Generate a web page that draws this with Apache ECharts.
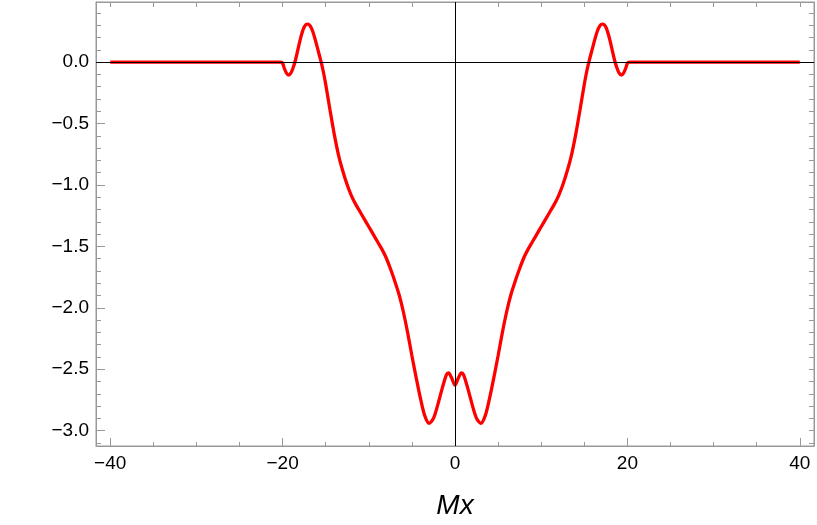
<!DOCTYPE html>
<html>
<head>
<meta charset="utf-8">
<script src="https://cdn.jsdelivr.net/npm/echarts@6/dist/echarts.min.js"></script>
<style>
html,body{margin:0;padding:0;background:#fff;}
#chart{width:817px;height:525px;}
</style>
</head>
<body>
<div id="chart"></div>
<script>
const mxValues = [-40, -30, -21, -20.2, -20.0, -19.8, -19.55, -19.3, -19.05, -18.8, -18.5, -18.2, -17.9, -17.6, -17.3, -17.05, -16.8, -16.5, -16.2, -15.9, -15.6, -15.3, -15.0, -14.5, -14.0, -13.5, -13.0, -12.5, -12.0, -11.5, -11.0, -10.5, -10.0, -9.5, -9.0, -8.5, -8.0, -7.5, -7.0, -6.5, -6.0, -5.5, -5.0, -4.5, -4.0, -3.5, -3.0, -2.5, -2.0, -1.5, -1.0, -0.75, -0.4, 0,
  0.4, 0.75, 1.0, 1.5, 2.0, 2.5, 3.0, 3.5, 4.0, 4.5, 5.0, 5.5, 6.0, 6.5, 7.0, 7.5, 8.0, 8.5, 9.0, 9.5, 10.0, 10.5, 11.0, 11.5, 12.0, 12.5, 13.0, 13.5, 14.0, 14.5, 15.0, 15.3, 15.6, 15.9, 16.2, 16.5, 16.8, 17.05, 17.3, 17.6, 17.9, 18.2, 18.5, 18.8, 19.05, 19.3, 19.55, 19.8, 20.0, 20.2, 21, 30, 40];
const curveValues = [0, 0, 0, 0, -0.01, -0.05, -0.09, -0.105, -0.09, -0.05, 0.02, 0.11, 0.20, 0.27, 0.305, 0.31, 0.295, 0.25, 0.18, 0.10, 0.02, -0.07, -0.18, -0.39, -0.59, -0.76, -0.89, -1.00, -1.09, -1.16, -1.22, -1.28, -1.34, -1.40, -1.46, -1.52, -1.59, -1.68, -1.78, -1.89, -2.03, -2.20, -2.39, -2.57, -2.74, -2.88, -2.94, -2.90, -2.79, -2.66, -2.545, -2.53, -2.57, -2.63,
  -2.57, -2.53, -2.545, -2.66, -2.79, -2.90, -2.94, -2.88, -2.74, -2.57, -2.39, -2.20, -2.03, -1.89, -1.78, -1.68, -1.59, -1.52, -1.46, -1.40, -1.34, -1.28, -1.22, -1.16, -1.09, -1.00, -0.89, -0.76, -0.59, -0.39, -0.18, -0.07, 0.02, 0.10, 0.18, 0.25, 0.295, 0.31, 0.305, 0.27, 0.20, 0.11, 0.02, -0.05, -0.09, -0.105, -0.09, -0.05, -0.01, 0, 0, 0, 0];
const xTickLabels = [-40, -20, 0, 20, 40];
const yTickLabels = [0.0, -0.5, -1.0, -1.5, -2.0, -2.5, -3.0];
const xLabel = 'Mx';

const chart = echarts.init(document.getElementById('chart'), null, {renderer: 'canvas'});
const frameColor = '#999999';
const fontFamily = '"Liberation Sans", Arial, sans-serif';
const minus = v => String(v).replace('-', '\u2212');

const xMin = -41.65, xMax = 41.65, yMin = -3.125, yMax = 0.49;

const data = mxValues.map((x, i) => [x, curveValues[i]]);

chart.setOption({
  animation: false,
  backgroundColor: '#fff',
  grid: {left: 96, right: 3, top: 2, bottom: 79, show: true, borderColor: frameColor, borderWidth: 1, containLabel: false},
  xAxis: [{
    type: 'value', min: xMin, max: xMax, splitNumber: 4, position: 'bottom',
    name: xLabel, nameLocation: 'middle', nameGap: 46,
    nameTextStyle: {fontFamily: fontFamily, fontStyle: 'italic', fontSize: 28, color: '#000'},
    axisLine: {show: true, onZero: false, lineStyle: {color: frameColor}},
    axisTick: {show: true, inside: true, length: 8, lineStyle: {color: frameColor}},
    minorTick: {show: true, splitNumber: 4, length: 4, lineStyle: {color: frameColor}},
    splitLine: {show: false},
    axisLabel: {show: true, margin: 8, fontFamily: fontFamily, fontSize: 19, color: '#000',
      showMinLabel: false, showMaxLabel: false,
      formatter: v => xTickLabels.indexOf(v) >= 0 ? minus(v) : ''}
  }, {
    type: 'value', min: xMin, max: xMax, splitNumber: 4, position: 'top',
    axisLine: {show: true, onZero: false, lineStyle: {color: frameColor}},
    axisTick: {show: true, inside: true, length: 5, lineStyle: {color: frameColor}},
    minorTick: {show: true, splitNumber: 4, length: 5, lineStyle: {color: frameColor}},
    splitLine: {show: false}, axisLabel: {show: false}
  }],
  yAxis: [{
    type: 'value', min: yMin, max: yMax, splitNumber: 7, position: 'left',
    axisLine: {show: true, onZero: false, lineStyle: {color: frameColor}},
    axisTick: {show: true, inside: true, length: 9, lineStyle: {color: frameColor}},
    minorTick: {show: true, splitNumber: 5, length: 5, lineStyle: {color: frameColor}},
    splitLine: {show: false},
    axisLabel: {show: true, margin: 7, fontFamily: fontFamily, fontSize: 19, color: '#000',
      showMinLabel: false, showMaxLabel: false,
      formatter: v => {
        const m = yTickLabels.find(t => Math.abs(t - v) < 1e-9);
        return m === undefined ? '' : minus(m.toFixed(1));
      }}
  }, {
    type: 'value', min: yMin, max: yMax, splitNumber: 7, position: 'right',
    axisLine: {show: true, onZero: false, lineStyle: {color: frameColor}},
    axisTick: {show: true, inside: true, length: 5, lineStyle: {color: frameColor}},
    minorTick: {show: true, splitNumber: 5, length: 5, lineStyle: {color: frameColor}},
    splitLine: {show: false}, axisLabel: {show: false}
  }],
  series: [{
    type: 'line', xAxisIndex: 0, yAxisIndex: 0, data: data,
    smooth: 0.3, showSymbol: false, symbol: 'none', z: 2,
    lineStyle: {color: '#ff0000', width: 3.3}, itemStyle: {color: '#ff0000'}
  }, {
    type: 'line', xAxisIndex: 0, yAxisIndex: 0, data: [], z: 5,
    markLine: {
      silent: true, symbol: ['none', 'none'], animation: false,
      label: {show: false},
      lineStyle: {color: '#000', width: 1, type: 'solid'},
      data: [{yAxis: 0}, {xAxis: 0}]
    }
  }]
});
</script>
</body>
</html>
